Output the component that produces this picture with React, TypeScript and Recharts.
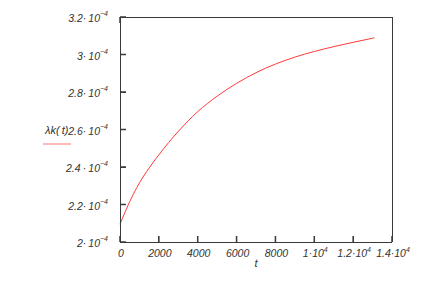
import { LineChart, Line, XAxis, YAxis } from "recharts";

const tValues = [0, 500, 1000, 1500, 2000, 2500, 3000, 4000, 5000, 6000, 7000, 8000, 9000, 10000, 11000, 12000, 13000, 13100];
const lambdaValues = [
  2.095e-4, 2.215e-4, 2.315e-4, 2.395e-4, 2.465e-4, 2.53e-4, 2.59e-4, 2.695e-4, 2.778e-4,
  2.846e-4, 2.903e-4, 2.949e-4, 2.986e-4, 3.016e-4, 3.042e-4, 3.065e-4, 3.087e-4, 3.089e-4,
];

const xTicks = [0, 2000, 4000, 6000, 8000, 10000, 12000, 14000];
const xTickText = ["0", "2000", "4000", "6000", "8000", "1·10", "1.2·10", "1.4·10"];
const xTickExp = ["", "", "", "", "", "4", "4", "4"];

const yTicks = [2e-4, 2.2e-4, 2.4e-4, 2.6e-4, 2.8e-4, 3e-4, 3.2e-4];
const yTickText = ["2·\u200910", "2.2·\u200910", "2.4\u2009·\u200910", "2.6·\u200910", "2.8·\u200910", "3·\u200910", "3.2·\u200910"];
const yTickExp = "−4";

const seriesName = "λk(\u2009t)";

const AXIS = "#3a3a3a";
const TEXT = "#333";
const RED = "#ff3a3a";
const TICK = 6;
const TW = 1.5;
const lineStyle = { stroke: AXIS, strokeWidth: 1, shapeRendering: "crispEdges" };

const data = tValues.map((t, i) => ({ t, lambda: lambdaValues[i] }));

// inward tick marks are drawn as thin rects next to each label
function BottomTick(props: any) {
  const { x, y, index } = props;
  return (
    <g>
      <rect x={x - TW / 2} y={y - 12} width={TW} height={TICK} fill={AXIS} />
      <text x={x + 1} y={y + 9} textAnchor="middle" fill={TEXT} fontSize={10.5} fontStyle="italic">
        {xTickText[index]}
        {xTickExp[index] ? (
          <tspan dy={-5} fontSize={7}>{xTickExp[index]}</tspan>
        ) : null}
      </text>
    </g>
  );
}

function LeftTick(props: any) {
  const { x, y, index } = props;
  return (
    <g>
      <rect x={x + 12} y={y - TW / 2} width={TICK} height={TW} fill={AXIS} />
      <text x={x} y={y + 5} textAnchor="end" fill={TEXT} fontSize={10.5} fontStyle="italic">
        {yTickText[index]}
        <tspan dy={-6} fontSize={7}>{yTickExp}</tspan>
      </text>
    </g>
  );
}

function TopTick(props: any) {
  const { x, y } = props;
  return <rect x={x - TW / 2} y={y - TICK} width={TW} height={TICK} fill={AXIS} />;
}

function RightTick(props: any) {
  const { x, y } = props;
  return <rect x={x} y={y - TW / 2} width={TICK} height={TW} fill={AXIS} />;
}

// Mathcad puts the trace name and its line sample left of the y labels
function SeriesLabel(props: any) {
  const { viewBox } = props;
  const y = viewBox.y + viewBox.height / 2;
  return (
    <g>
      <text x={45} y={y + 4} fill={TEXT} fontSize={11} fontStyle="italic">{seriesName}</text>
      <line x1={43} y1={y + 14.5} x2={71} y2={y + 14.5} stroke={RED} strokeOpacity={0.7} />
    </g>
  );
}

export default function App() {
  return (
    <div style={{ position: "absolute", left: 0, top: 0, fontFamily: "'Liberation Sans', Arial, sans-serif" }}>
      <LineChart width={431} height={285} data={data} margin={{ top: 0, right: 0, bottom: 0, left: 0 }}>
        <XAxis
          xAxisId="b"
          dataKey="t"
          type="number"
          domain={[0, 14000]}
          ticks={xTicks}
          interval={0}
          height={43}
          tickSize={-6}
          tickMargin={12}
          tickLine={lineStyle}
          axisLine={lineStyle}
          tick={BottomTick}
          label={{ value: "t", position: "insideBottom", offset: 18, fill: TEXT, fontSize: 11, fontStyle: "italic" }}
        />
        <XAxis
          xAxisId="top"
          orientation="top"
          type="number"
          domain={[0, 14000]}
          ticks={xTicks}
          interval={0}
          height={17}
          tickSize={-6}
          tickMargin={0}
          tickLine={lineStyle}
          axisLine={lineStyle}
          tick={TopTick}
        />
        <YAxis
          yAxisId="l"
          type="number"
          domain={[2e-4, 3.2e-4]}
          ticks={yTicks}
          interval={0}
          width={120}
          tickSize={-6}
          tickMargin={18}
          tickLine={lineStyle}
          axisLine={lineStyle}
          tick={LeftTick}
          label={{ content: SeriesLabel }}
        />
        <YAxis
          yAxisId="r"
          orientation="right"
          type="number"
          domain={[2e-4, 3.2e-4]}
          ticks={yTicks}
          interval={0}
          width={39}
          tickSize={-6}
          tickMargin={0}
          tickLine={lineStyle}
          axisLine={lineStyle}
          tick={RightTick}
        />
        <Line
          xAxisId="b"
          yAxisId="l"
          type="monotone"
          dataKey="lambda"
          name={seriesName}
          stroke={RED}
          strokeWidth={1}
          dot={false}
          isAnimationActive={false}
        />
      </LineChart>
    </div>
  );
}
